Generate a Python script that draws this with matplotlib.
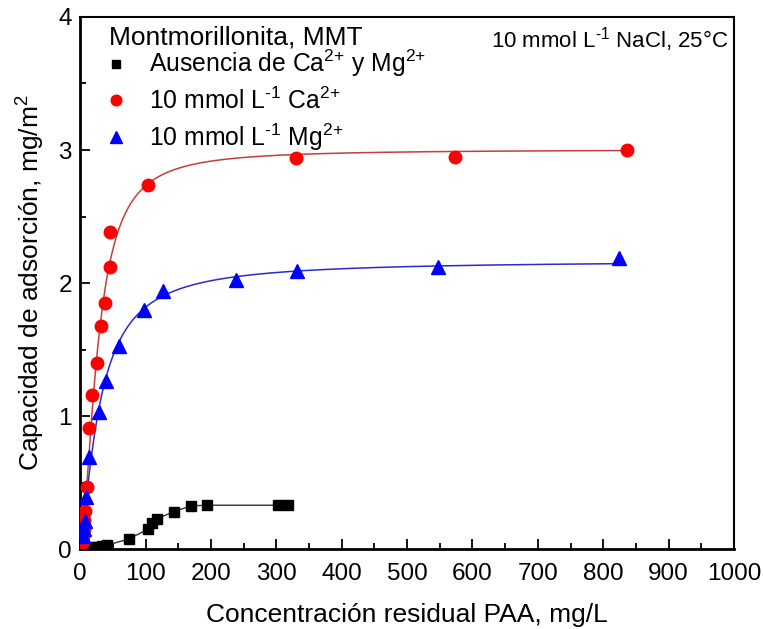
import numpy as np
import matplotlib
matplotlib.use("Agg")
import matplotlib.pyplot as plt
from matplotlib.ticker import MultipleLocator

plt.rcParams['font.family'] = ['Liberation Sans', 'DejaVu Sans']
plt.rcParams['mathtext.fontset'] = 'custom'
plt.rcParams['mathtext.rm'] = 'Liberation Sans'
plt.rcParams['mathtext.it'] = 'Liberation Sans'
plt.rcParams['mathtext.default'] = 'regular'

# data (PAA residual conc. mg/L vs adsorption mg/m2)
sin_x = [3, 8, 13, 19, 26, 33, 41, 74, 104, 110, 118, 143, 169, 194, 303, 318]
sin_y = [0.01, 0.01, 0.01, 0.015, 0.015, 0.02, 0.03, 0.075, 0.15, 0.20, 0.23, 0.28, 0.325, 0.33, 0.33, 0.335]

ca_x = [4, 5, 6, 6.5, 7.5, 11, 14, 18, 26.5, 31.5, 38, 45, 46, 104, 330, 574, 836]
ca_y = [0.05, 0.10, 0.15, 0.22, 0.29, 0.47, 0.91, 1.16, 1.40, 1.68, 1.85, 2.12, 2.38, 2.74, 2.94, 2.95, 3.00]

mg_x = [5, 6, 7, 9, 14, 28.5, 40, 59, 98, 127, 239, 331, 547, 824]
mg_y = [0.10, 0.15, 0.21, 0.39, 0.69, 1.03, 1.26, 1.53, 1.80, 1.94, 2.02, 2.09, 2.12, 2.19]

labels = [r"Ausencia de Ca$^{\text{2+}}$ y Mg$^{\text{2+}}$",
          r"10 mmol L$^{\text{-1}}$ Ca$^{\text{2+}}$",
          r"10 mmol L$^{\text{-1}}$ Mg$^{\text{2+}}$"]


def sips_fit(x, y):
    # brute force least squares for q = qm (Kc)^n / (1 + (Kc)^n)
    x = np.asarray(x, float)
    y = np.asarray(y, float)
    best = None
    for lk in np.linspace(-4, 0, 161):
        for n in np.linspace(0.4, 3, 131):
            t = (10 ** lk * x) ** n
            f = t / (1 + t)
            qm = (f * y).sum() / (f * f).sum()
            err = ((qm * f - y) ** 2).sum()
            if best is None or err < best[0]:
                best = (err, qm, 10 ** lk, n)
    _, qm, k, n = best
    xs = np.linspace(x.min(), x.max(), 400)
    t = (k * xs) ** n
    return xs, qm * t / (1 + t)


fig = plt.figure(figsize=(7.63, 6.29), dpi=100)
ax = fig.add_axes([0.105, 0.127, 0.857, 0.846])

fx, fy = sips_fit(ca_x, ca_y)
ax.plot(fx, fy, color='#c83c3c', lw=1.1, zorder=2)
fx, fy = sips_fit(mg_x, mg_y)
ax.plot(fx, fy, color='#2a2ad0', lw=1.1, zorder=2)
ax.plot(sin_x, sin_y, color='#333333', lw=1.0, zorder=2)

ax.plot(sin_x, sin_y, 's', color='black', ms=7.5, ls='none', zorder=3, label=labels[0])
ax.plot(ca_x, ca_y, 'o', color='#ff0000', ms=9, ls='none', zorder=3, label=labels[1])
ax.plot(mg_x, mg_y, '^', color='#0000ff', ms=10.5, ls='none', zorder=3, label=labels[2])

ax.set_xlim(0, 1000)
ax.set_ylim(0, 4)
ax.xaxis.set_major_locator(MultipleLocator(100))
ax.xaxis.set_minor_locator(MultipleLocator(50))
ax.yaxis.set_major_locator(MultipleLocator(1))
ax.yaxis.set_minor_locator(MultipleLocator(0.5))
ax.tick_params(which='both', direction='in', top=False, right=False, width=1.3, labelsize=17.5)
ax.tick_params(which='major', length=7)
ax.tick_params(which='minor', length=4)
ax.tick_params(axis='x', pad=10)
ax.tick_params(axis='y', pad=6)
for s in ax.spines.values():
    s.set_linewidth(1.5)
ax.spines['left'].set_linewidth(2)
ax.spines['bottom'].set_linewidth(2)

ax.set_xlabel("Concentración residual PAA, mg/L", fontsize=19, labelpad=13)
ax.set_ylabel("Capacidad de adsorción, mg/m$^{2}$", fontsize=19, labelpad=8)

ax.text(0.991, 0.957, r"10 mmol L$^{\text{-1}}$ NaCl, 25°C", transform=ax.transAxes,
        ha='right', va='center', fontsize=16)
ax.text(0.044, 0.962, "Montmorillonita, MMT", transform=ax.transAxes,
        ha='left', va='center', fontsize=19)

leg = ax.legend(loc='upper left', bbox_to_anchor=(0.036, 0.942), frameon=False,
                fontsize=17.8, handlelength=1.0, handletextpad=0.85,
                labelspacing=0.32, borderaxespad=0, borderpad=0,
                markerscale=0.85)

fig.savefig("out.png", dpi=100)
